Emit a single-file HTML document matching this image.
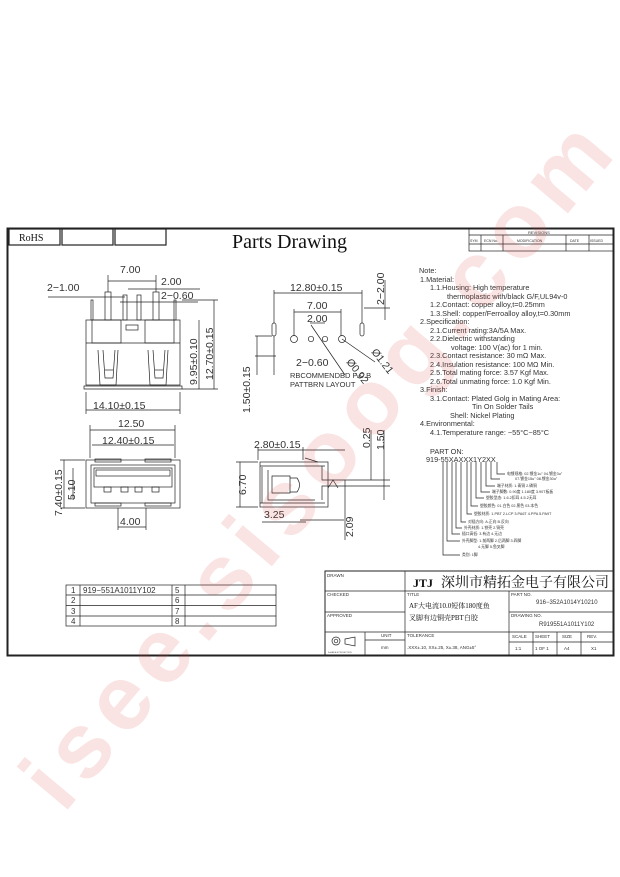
<!DOCTYPE html>
<html><head><meta charset="utf-8">
<style>
html,body{margin:0;padding:0;background:#fff;}
svg{display:block;}
text{font-family:"Liberation Sans","Noto Sans CJK SC",sans-serif;fill:#333;}
.s{font-family:"Liberation Serif","Noto Serif CJK SC",serif;fill:#111;}
</style></head>
<body>
<svg width="620" height="877" viewBox="0 0 620 877" xmlns="http://www.w3.org/2000/svg">
<g fill="none" stroke="#222" stroke-width="0.7">
<rect x="7.5" y="228.5" width="606" height="427" stroke-width="2"/>
<rect x="9" y="229" width="51" height="16" stroke-width="1.2"/>
<rect x="62" y="229" width="51" height="16" stroke-width="1.2"/>
<rect x="115" y="229" width="51" height="16" stroke-width="1.2"/>
<rect x="469" y="229" width="144" height="22"/>
<line x1="469" y1="235" x2="613" y2="235"/>
<line x1="469" y1="244" x2="613" y2="244"/>
<line x1="481" y1="235" x2="481" y2="251"/><line x1="503" y1="235" x2="503" y2="251"/>
<line x1="566" y1="235" x2="566" y2="251"/><line x1="589" y1="235" x2="589" y2="251"/>

<rect x="86" y="320" width="94" height="65"/>
<line x1="86" y1="343" x2="180" y2="343"/>
<rect x="92" y="320" width="29" height="23"/><rect x="145" y="320" width="29" height="23"/>
<rect x="126" y="325" width="12" height="5"/>
<rect x="105" y="292" width="6" height="28"/><rect x="123" y="295" width="4" height="25"/>
<rect x="137" y="295" width="4" height="25"/><rect x="153" y="292" width="6" height="28"/>
<rect x="91" y="300" width="2" height="20"/><rect x="174" y="300" width="2" height="20"/>
<path d="M98 350 L100 385 M118 350 L116 385 M100 385 L116 385 M103 350 L105 378 L113 378 L115 350"/>
<path d="M148 350 L150 385 M168 350 L166 385 M150 385 L166 385 M153 350 L155 378 L163 378 L165 350"/>
<line x1="105" y1="370" x2="113" y2="370"/><line x1="155" y1="370" x2="163" y2="370"/>
<path d="M84 386 L182 386 L182 389 L84 389 Z"/>
<line x1="108" y1="275" x2="108" y2="292"/><line x1="156" y1="275" x2="156" y2="292"/>
<line x1="108" y1="281" x2="156" y2="281"/>
<line x1="48" y1="297" x2="125" y2="297"/><line x1="128" y1="289" x2="200" y2="289"/>
<line x1="120" y1="302" x2="198" y2="302"/>
<line x1="86" y1="392" x2="86" y2="414"/><line x1="180" y1="392" x2="180" y2="414"/>
<line x1="86" y1="410" x2="180" y2="410"/>
<line x1="182" y1="300" x2="218" y2="300"/><line x1="182" y1="389" x2="218" y2="389"/>
<line x1="199" y1="320" x2="199" y2="389"/><line x1="214" y1="300" x2="214" y2="389"/>

<rect x="86" y="460" width="94" height="48"/>
<rect x="91" y="465" width="84" height="38"/>
<rect x="94" y="468" width="78" height="19"/>
<rect x="96" y="470" width="74" height="6"/>
<rect x="104" y="487" width="7" height="5"/><rect x="121" y="487" width="7" height="5"/>
<rect x="135" y="487" width="7" height="5"/><rect x="152" y="487" width="7" height="5"/>
<rect x="95" y="503" width="26" height="3"/><rect x="145" y="503" width="26" height="3"/>
<rect x="95" y="459" width="26" height="3"/><rect x="145" y="459" width="26" height="3"/>
<line x1="90" y1="425" x2="90" y2="458"/><line x1="175" y1="425" x2="175" y2="458"/>
<line x1="90" y1="430" x2="175" y2="430"/>
<line x1="92" y1="445" x2="174" y2="445"/>
<line x1="60" y1="460" x2="85" y2="460"/><line x1="60" y1="508" x2="85" y2="508"/>
<line x1="64" y1="460" x2="64" y2="508"/><line x1="73" y1="468" x2="73" y2="500"/>
<line x1="118" y1="508" x2="118" y2="530"/><line x1="146" y1="508" x2="146" y2="530"/>
<line x1="118" y1="527" x2="146" y2="527"/>

<line x1="274" y1="290" x2="274" y2="323"/><line x1="362" y1="290" x2="362" y2="323"/>
<line x1="274" y1="293" x2="362" y2="293"/>
<line x1="294" y1="309" x2="294" y2="336"/><line x1="341" y1="309" x2="341" y2="336"/>
<line x1="294" y1="312" x2="341" y2="312"/>
<line x1="310" y1="323" x2="325" y2="323"/>
<circle cx="294" cy="339" r="3.5"/><circle cx="311" cy="339" r="2.7"/>
<circle cx="325" cy="339" r="2.7"/><circle cx="342" cy="339" r="3.5"/>
<rect x="272" y="323" width="4" height="13" rx="2"/><rect x="360" y="323" width="4" height="13" rx="2"/>
<line x1="311" y1="325" x2="345" y2="375"/><line x1="342" y1="339" x2="375" y2="362"/>
<line x1="255" y1="336" x2="272" y2="336"/><line x1="255" y1="356" x2="276" y2="356"/>
<line x1="274" y1="336" x2="274" y2="375"/>
<line x1="257" y1="336" x2="257" y2="375"/>
<line x1="364" y1="308" x2="390" y2="308"/><line x1="385" y1="280" x2="385" y2="320"/>

<rect x="260" y="462" width="68" height="45"/>
<line x1="262" y1="467" x2="262" y2="503"/>
<path d="M268 470 L268 500 L315 500"/>
<path d="M272 476 L272 493 L290 493 L290 476 Z"/>
<path d="M290 478 L297 478 Q302 485 297 492 L290 492"/>
<line x1="260" y1="466" x2="325" y2="466"/><line x1="260" y1="503" x2="325" y2="503"/>
<path d="M322 466 L322 480 L340 480 M322 500 L322 486 L340 486"/>
<path d="M328 488 L333 480 L338 488"/>
<line x1="305" y1="458" x2="318" y2="462"/>
<line x1="258" y1="447" x2="258" y2="460"/><line x1="303" y1="447" x2="303" y2="460"/>
<line x1="258" y1="450" x2="345" y2="450"/>
<line x1="236" y1="462" x2="258" y2="462"/><line x1="236" y1="507" x2="258" y2="507"/>
<line x1="240" y1="462" x2="240" y2="507"/>
<line x1="300" y1="520" x2="344" y2="520"/><line x1="262" y1="522" x2="306" y2="522"/>
<line x1="345" y1="480" x2="345" y2="540"/>
<line x1="340" y1="480" x2="390" y2="480"/><line x1="340" y1="486" x2="390" y2="486"/>
<line x1="371" y1="430" x2="371" y2="480"/><line x1="384" y1="430" x2="384" y2="500"/>

<path d="M443 462 L443 555 L460 555"/>
<path d="M447 462 L447 541 L460 541"/>
<path d="M452 462 L452 534 L460 534"/>
<path d="M456 462 L456 528 L462 528"/>
<path d="M461 462 L461 522 L466 522"/>
<path d="M467 462 L467 514 L472 514"/>
<path d="M471 462 L471 506 L478 506"/>
<path d="M476 462 L476 498 L484 498"/>
<path d="M481 462 L481 492 L490 492"/>
<path d="M486 462 L486 486 L495 486"/>
<path d="M491 462 L491 479 L500 479"/>
<path d="M497 462 L497 474 L505 474"/>

<rect x="66" y="585" width="210" height="41"/>
<line x1="66" y1="595" x2="276" y2="595"/><line x1="66" y1="605.5" x2="276" y2="605.5"/><line x1="66" y1="616" x2="276" y2="616"/>
<line x1="80" y1="585" x2="80" y2="626"/><line x1="172" y1="585" x2="172" y2="626"/><line x1="185" y1="585" x2="185" y2="626"/>

<rect x="325" y="571" width="288" height="84" stroke-width="1"/>
<line x1="405" y1="571" x2="405" y2="655"/>
<line x1="325" y1="591" x2="613" y2="591"/>
<line x1="325" y1="612" x2="405" y2="612"/>
<line x1="509" y1="612" x2="613" y2="612"/>
<line x1="509" y1="591" x2="509" y2="655"/>
<line x1="325" y1="632" x2="613" y2="632"/>
<line x1="365" y1="640" x2="405" y2="640"/>
<line x1="509" y1="642" x2="613" y2="642"/>
<line x1="365" y1="632" x2="365" y2="655"/>
<line x1="533" y1="632" x2="533" y2="655"/><line x1="557" y1="632" x2="557" y2="655"/><line x1="581" y1="632" x2="581" y2="655"/>
<circle cx="336" cy="641" r="4"/><circle cx="336" cy="641" r="1.8"/>
<path d="M345 639 L355 637 L355 646 L345 644 Z"/>
</g>

<text x="19" y="241" font-size="10" class="s">RoHS</text>
<text x="232" y="248" font-size="20" class="s">Parts Drawing</text>
<text x="528" y="234" font-size="4">REVISIONS</text>
<text x="470" y="242" font-size="3.5">SYM</text><text x="484" y="242" font-size="3.5">ECN No.</text>
<text x="517" y="242" font-size="3.5">MODIFICATION</text><text x="570" y="242" font-size="3.5">DATE</text><text x="590" y="242" font-size="3.5">ISSUED</text>

<g font-size="10.5">
<text x="120" y="273">7.00</text>
<text x="47" y="291">2−1.00</text>
<text x="161" y="285">2.00</text>
<text x="161" y="299">2−0.60</text>
<text x="93" y="409">14.10±0.15</text>
<text transform="translate(197 385) rotate(-90)">9.95±0.10</text>
<text transform="translate(213 380) rotate(-90)">12.70±0.15</text>
<text x="118" y="427">12.50</text>
<text x="102" y="444">12.40±0.15</text>
<text transform="translate(62 516) rotate(-90)">7.40±0.15</text>
<text transform="translate(75 500) rotate(-90)">5.10</text>
<text x="120" y="525">4.00</text>
<text x="290" y="291">12.80±0.15</text>
<text x="307" y="309">7.00</text>
<text x="307" y="322">2.00</text>
<text x="296" y="366">2−0.60</text>
<text transform="translate(384 305) rotate(-90)">2−2.00</text>
<text transform="translate(250 413) rotate(-90)">1.50±0.15</text>
<text transform="translate(346 362) rotate(52)">Ø0.92</text>
<text transform="translate(371 352) rotate(52)">Ø1.21</text>
<text x="254" y="448">2.80±0.15</text>
<text transform="translate(246 495) rotate(-90)">6.70</text>
<text x="264" y="518">3.25</text>
<text transform="translate(353 537) rotate(-90)">2.09</text>
<text transform="translate(370 448) rotate(-90)">0.25</text>
<text transform="translate(384 450) rotate(-90)">1.50</text>
</g>
<text x="290" y="378" font-size="7.5">RBCOMMENDBD P.C.B</text>
<text x="290" y="387" font-size="7.5">PATTBRN LAYOUT</text>

<g font-size="7.3">
<text x="419" y="273">Note:</text>
<text x="420" y="282">1.Material:</text>
<text x="430" y="290">1.1.Housing: High temperature</text>
<text x="447" y="299">thermoplastic with/black G/F,UL94v-0</text>
<text x="430" y="307">1.2.Contact: copper alloy,t=0.25mm</text>
<text x="430" y="316">1.3.Shell: copper/Ferroalloy alloy,t=0.30mm</text>
<text x="420" y="324">2.Specification:</text>
<text x="430" y="333">2.1.Current rating:3A/5A Max.</text>
<text x="430" y="341">2.2.Dielectric withstanding</text>
<text x="451" y="350">voltage: 100 V(ac) for 1 min.</text>
<text x="430" y="358">2.3.Contact resistance: 30 mΩ Max.</text>
<text x="430" y="367">2.4.Insulation resistance: 100 MΩ Min.</text>
<text x="430" y="375">2.5.Total mating force: 3.57 Kgf Max.</text>
<text x="430" y="384">2.6.Total unmating force: 1.0 Kgf Min.</text>
<text x="420" y="392">3.Finish:</text>
<text x="430" y="401">3.1.Contact: Plated Golg in Mating Area:</text>
<text x="472" y="409">Tin On Solder Tails</text>
<text x="450" y="418">Shell: Nickel Plating</text>
<text x="420" y="426">4.Environmental:</text>
<text x="430" y="435">4.1.Temperature range: −55°C~85°C</text>
<text x="430" y="454">PART ON:</text>
<text x="426" y="462">919-55XAXXX1Y2XX</text>
</g>
<g font-size="3.8">
<text x="507" y="475">电镀规格: 02.镀金1u" 04.镀金3u"</text>
<text x="515" y="480">07.镀金15u" 08.镀金30u"</text>
<text x="497" y="487">端子材质: 1.青铜 2.磷铜</text>
<text x="492" y="493">端子脚数: 0.90度 1.180度 3.90T板板</text>
<text x="486" y="499">塑胶型态: 1.6.2扣耳 4.5.2无耳</text>
<text x="480" y="507">塑胶颜色: 01.白色 02.黑色 03.本色</text>
<text x="474" y="515">塑胶材质: 1.PBT 2.LCP 3.PA6T 4.PPA 5.PA9T</text>
<text x="468" y="523">对插方向: A.正向 B.反向</text>
<text x="464" y="529">外壳材质: 1.铁壳 2.铜壳</text>
<text x="462" y="535">插口高低: 3.有边 4.无边</text>
<text x="462" y="542">外壳脚型: 1.前两脚 2.后两脚 3.四脚</text>
<text x="478" y="548">4.无脚 5.鱼叉脚</text>
<text x="462" y="556">类别: 1脚</text>
</g>

<g font-size="8">
<text x="71" y="593">1</text><text x="83" y="593">919−551A1011Y102</text><text x="175" y="593">5</text>
<text x="71" y="603">2</text><text x="175" y="603">6</text>
<text x="71" y="614">3</text><text x="175" y="614">7</text>
<text x="71" y="624">4</text><text x="175" y="624">8</text>
</g>
<g font-size="4.5">
<text x="327" y="577">DRAWN</text>
<text x="327" y="596">CHECKED</text>
<text x="327" y="617">APPROVED</text>
<text x="407" y="596">TITLE</text>
<text x="511" y="596">PART NO.</text>
<text x="511" y="617">DRAWING NO.</text>
<text x="407" y="637">TOLERANCE</text>
<text x="381" y="637">UNIT</text><text x="381" y="649">mm</text>
<text x="512" y="638">SCALE</text><text x="535" y="638">SHEET</text><text x="562" y="638">SIZE</text><text x="587" y="638">REV.</text>
<text x="515" y="650">1:1</text><text x="535" y="650">1 OF 1</text><text x="564" y="650">A4</text><text x="591" y="650">X1</text>
<text x="407" y="649">.XXX±.10, XX±.25, X±.38, ANG±5°</text>
<text x="328" y="653" font-size="2">3rd ANGLE PROJECTION</text>
</g>
<text x="536" y="604" font-size="6">916−352A1014Y10210</text>
<text x="539" y="626" font-size="6">R919551A1011Y102</text>
<text x="413" y="587" font-size="12" class="s" font-weight="bold">JTJ</text>
<text x="441" y="587" font-size="14" class="s">深圳市精拓金电子有限公司</text>
<text x="409" y="608" font-size="7" class="s">AF大电流10.0短体180度鱼</text>
<text x="409" y="620" font-size="7" class="s">叉脚有边铜壳PBT白胶</text>

<text transform="translate(340 485) rotate(-50)" text-anchor="middle" font-size="92" font-weight="bold" textLength="860" style="fill:rgba(220,70,70,0.15)">isee.sisoog.com</text>
</svg>
</body></html>
